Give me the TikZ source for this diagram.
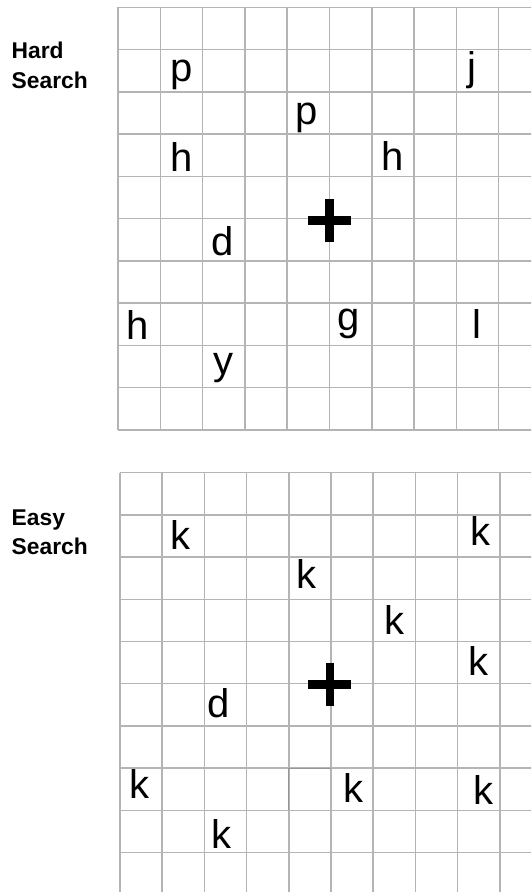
\documentclass[tikz,border=0pt]{standalone}
\usepackage{fontspec}
\setmainfont{Liberation Sans}
\definecolor{gridgray}{RGB}{180,180,180}
\definecolor{darkgridgray}{RGB}{150,150,150}
\tikzset{
  gridline/.style={draw=gridgray, line width=1.5pt},
  letter/.style={anchor=base, inner sep=0pt, font=\fontsize{40}{48}\selectfont},
  sidelabel/.style={anchor=base west, inner sep=0pt, font=\bfseries\fontsize{22.8}{26}\selectfont},
  fixcross/.style={line width=9pt, line cap=butt, draw=black}
}
\begin{document}
\begin{tikzpicture}[x=1pt,y=-1pt]
\useasboundingbox (0,0) rectangle (531,892);
\fill[white] (0,0) rectangle (531,892);
\begin{scope}
\clip (0,0) rectangle (531,892);
% top grid
\foreach \i in {0,...,10} {
  \draw[gridline] ({118+42.3*\i},7.3) -- ({118+42.3*\i},430);
  \draw[gridline] (118,{7.3+42.27*\i}) -- (541,{7.3+42.27*\i});
}
% bottom grid
\foreach \i in {0,...,10} {
  \draw[gridline] ({120+42.2*\i},472.7) -- ({120+42.2*\i},894.7);
  \draw[gridline] (120,{472.7+42.2*\i}) -- (542,{472.7+42.2*\i});
}
\draw[draw=darkgridgray, line width=1.2pt] (288.8,810.1) -- (288.8,768.1) -- (331,768.1);
\end{scope}

% labels
\node[sidelabel] (hard1) at (11.5,58.3) {Hard};
\node[sidelabel] (hard2) at (11.5,88) {Search};
\node[sidelabel] (easy1) at (11.5,525.7) {Easy};
\node[sidelabel] (easy2) at (11.5,554.5) {Search};

% hard search letters
\node[letter] (hp1) at (182,81) {p};
\node[letter] (hj)  at (472,80.7) {j};
\node[letter] (hp2) at (307,124) {p};
\node[letter] (hh1) at (182,171.7) {h};
\node[letter] (hh2) at (393,170) {h};
\node[letter] (hd)  at (223,255) {d};
\node[letter] (hh3) at (138,339.5) {h};
\node[letter] (hg)  at (349,330) {g};
\node[letter] (hl)  at (477,338.3) {l};
\node[letter] (hy)  at (223,374.7) {y};

% easy search letters
\node[letter] (ek1) at (180,549) {k};
\node[letter] (ek2) at (480,545) {k};
\node[letter] (ek3) at (306,588) {k};
\node[letter] (ek4) at (394,634) {k};
\node[letter] (ek5) at (478,675) {k};
\node[letter] (ed)  at (219,717) {d};
\node[letter] (ek6) at (139,798) {k};
\node[letter] (ek7) at (353,802) {k};
\node[letter] (ek8) at (483,804) {k};
\node[letter] (ek9) at (221,848) {k};

% fixation crosses
\coordinate (hc) at (329.5,220.5);
\draw[fixcross] ([xshift=-22pt]hc) -- ([xshift=21.5pt]hc);
\draw[fixcross] ([yshift=21.5pt]hc) -- ([yshift=-21.5pt]hc);
\coordinate (ec) at (330,684.5);
\draw[fixcross, line width=8.5pt] ([xshift=-22pt]ec) -- ([xshift=21pt]ec);
\draw[fixcross, line width=8.5pt] ([yshift=21.5pt]ec) -- ([yshift=-21.5pt]ec);
\end{tikzpicture}
\end{document}
